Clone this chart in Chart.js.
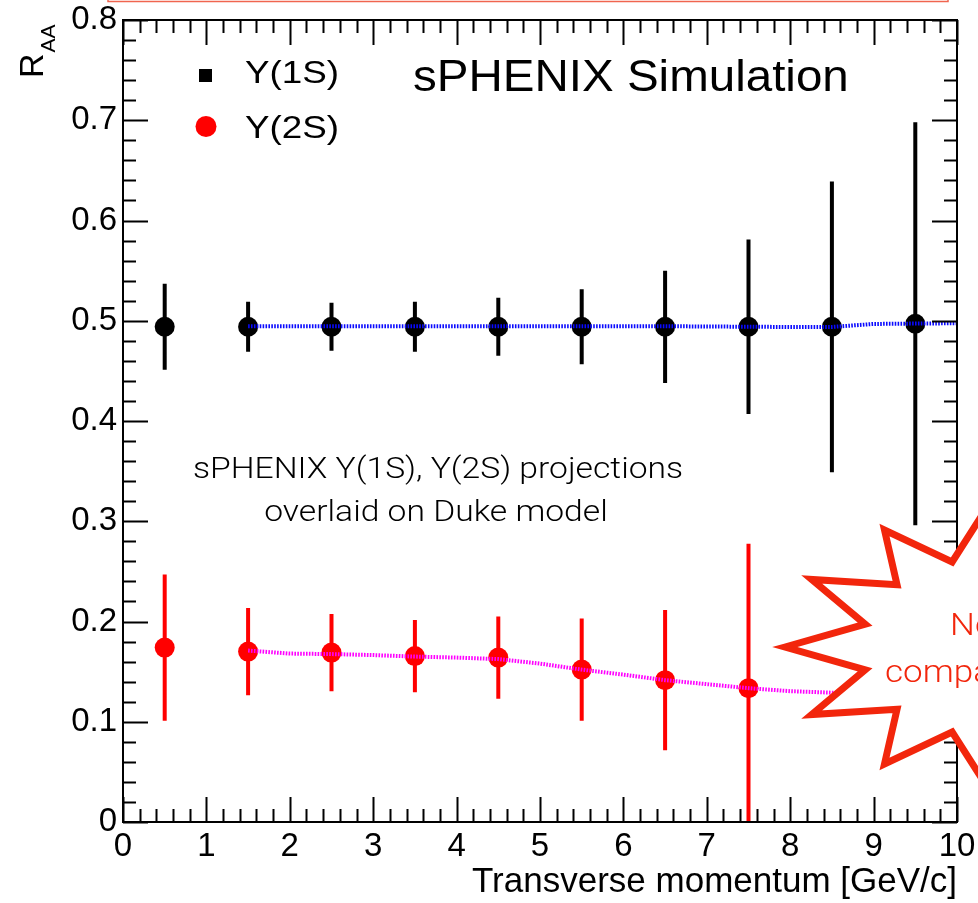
<!DOCTYPE html>
<html>
<head>
<meta charset="utf-8">
<script src="https://cdn.jsdelivr.net/npm/chart.js@4.4.1/dist/chart.umd.min.js"></script>
<style>
  html, body { margin: 0; padding: 0; background: #fff; }
  #wrap { width: 978px; height: 903px; position: relative; }
</style>
</head>
<body>
<div id="wrap"><canvas id="raaChart"></canvas></div>
<script>
const ptBins = [0.5, 1.5, 2.5, 3.5, 4.5, 5.5, 6.5, 7.5, 8.5, 9.5];
const ups1S = [0.494, 0.494, 0.494, 0.494, 0.494, 0.494, 0.494, 0.494, 0.494, 0.497];
const ups1SErr = [0.043, 0.025, 0.024, 0.025, 0.029, 0.0375, 0.056, 0.087, 0.145, 0.201];
const ups2S = [0.174, 0.170, 0.169, 0.1655, 0.164, 0.152, 0.1415, 0.1335];
const ups2SErr = [0.073, 0.0435, 0.0385, 0.036, 0.041, 0.051, 0.070, 0.144];

// Duke model curves
const modelPt = [1.5, 2, 2.5, 3, 3.5, 4, 4.5, 5, 5.5, 6, 6.5, 7, 7.5, 8, 8.5, 9, 9.5, 10];
const duke1S = [0.4945, 0.4945, 0.4945, 0.4945, 0.4945, 0.4945, 0.4945, 0.4945, 0.4945,
                0.4945, 0.4945, 0.4943, 0.494, 0.4938, 0.4938, 0.4968, 0.4972, 0.4975];
const duke2S = [0.171, 0.168, 0.1675, 0.1665, 0.165, 0.164, 0.1625, 0.158, 0.152,
                0.147, 0.1415, 0.1375, 0.1335, 0.1305, 0.129, 0.128, 0.127, 0.127];

// axis ticks
const xTickValues = [0, 1, 2, 3, 4, 5, 6, 7, 8, 9, 10];
const xTickLabels = ['0', '1', '2', '3', '4', '5', '6', '7', '8', '9', '10'];
const yTickValues = [0, 0.1, 0.2, 0.3, 0.4, 0.5, 0.6, 0.7, 0.8];
const yTickLabels = ['0', '0.1', '0.2', '0.3', '0.4', '0.5', '0.6', '0.7', '0.8'];

const toXY = (xs, ys) => ys.map((v, i) => ({ x: xs[i], y: v }));
const HELV = "'Liberation Sans', Arial, Helvetica, sans-serif";
const LIGHT = "Roboto, 'Liberation Sans', sans-serif";
const STAR_RED = '#f2260c';

function drawText(ctx, txt, x, y, font, color, align, sx) {
  ctx.save();
  ctx.font = font;
  ctx.fillStyle = color;
  ctx.textBaseline = 'alphabetic';
  const w = ctx.measureText(txt).width * sx;
  let x0 = x;
  if (align === 'center') x0 = x - w / 2;
  if (align === 'right') x0 = x - w;
  ctx.translate(x0, y);
  ctx.scale(sx, 1);
  ctx.textAlign = 'left';
  ctx.fillText(txt, 0, 0);
  ctx.restore();
}

function drawErrors(ctx, xs, ys, xv, yv, ev, color) {
  ctx.strokeStyle = color;
  ctx.beginPath();
  yv.forEach((v, i) => {
    const px = xs.getPixelForValue(xv[i]);
    ctx.moveTo(px, ys.getPixelForValue(v - ev[i]));
    ctx.lineTo(px, ys.getPixelForValue(v + ev[i]));
  });
  ctx.stroke();
}

const rootStyle = {
  id: 'rootStyle',
  beforeDatasetsDraw(chart) {
    const { ctx, chartArea: a, scales: { x, y } } = chart;
    ctx.save();
    ctx.beginPath();
    ctx.rect(a.left, a.top, a.right - a.left, a.bottom - a.top);
    ctx.clip();
    ctx.lineWidth = 4;
    drawErrors(ctx, x, y, ptBins, ups1S, ups1SErr, '#000');
    drawErrors(ctx, x, y, ptBins, ups2S, ups2SErr, '#ff0000');
    ctx.restore();
  },
  afterDatasetsDraw(chart) {
    const { ctx, chartArea: a, scales: { x, y } } = chart;
    ctx.save();
    ctx.strokeStyle = '#000';
    ctx.lineWidth = 2;
    ctx.strokeRect(a.left, a.top, a.right - a.left, a.bottom - a.top);
    ctx.beginPath();
    // x ticks, bottom and top, inside the frame
    for (let i = 0; i <= 50; i++) {
      const px = Math.round(x.getPixelForValue(i * 0.2)) + 0.5;
      const len = i % 5 === 0 ? 25 : 13;
      ctx.moveTo(px, a.bottom); ctx.lineTo(px, a.bottom - len);
      ctx.moveTo(px, a.top); ctx.lineTo(px, a.top + len);
    }
    // y ticks, left and right
    for (let i = 0; i <= 40; i++) {
      const py = Math.round(y.getPixelForValue(i * 0.02)) + 0.5;
      const len = i % 5 === 0 ? 25 : 13;
      ctx.moveTo(a.left, py); ctx.lineTo(a.left + len, py);
      ctx.moveTo(a.right, py); ctx.lineTo(a.right - len, py);
    }
    ctx.stroke();
    ctx.restore();
  },
  afterDraw(chart) {
    const { ctx } = chart;
    ctx.save();

    // y axis title R_AA
    ctx.save();
    ctx.translate(43, 78);
    ctx.rotate(-Math.PI / 2);
    ctx.fillStyle = '#000';
    ctx.font = '34px ' + HELV;
    ctx.textBaseline = 'alphabetic';
    ctx.fillText('R', 0, 0);
    const rw = ctx.measureText('R').width;
    ctx.font = '21px ' + HELV;
    ctx.fillText('AA', rw + 1, 12);
    ctx.restore();

    // legend
    ctx.fillStyle = '#000';
    ctx.fillRect(199, 69, 13, 13);
    ctx.fillStyle = '#ff0000';
    ctx.beginPath(); ctx.arc(206, 126.5, 10.5, 0, Math.PI * 2); ctx.fill();
    drawText(ctx, 'Υ(1S)', 245, 83, '32px ' + HELV, '#000', 'left', 1.15);
    drawText(ctx, 'Υ(2S)', 245, 138, '32px ' + HELV, '#000', 'left', 1.15);
    drawText(ctx, 'sPHENIX Simulation', 413, 91, '44px ' + HELV, '#000', 'left', 1.08);

    // overlaid note
    drawText(ctx, 'sPHENIX Υ(1S), Υ(2S) projections', 438, 478, '300 29px ' + LIGHT, '#000', 'center', 1.16);
    drawText(ctx, 'overlaid on Duke model', 436, 521, '300 29px ' + LIGHT, '#000', 'center', 1.16);

    // red starburst
    const cx = 984, cy = 647, n = 12;
    ctx.beginPath();
    for (let k = 0; k < 2 * n; k++) {
      const ang = Math.PI + k * Math.PI / n;
      const outer = k % 2 === 0;
      const rx = outer ? 199 : 123, ry = outer ? 135 : 88;
      const px = cx + rx * Math.cos(ang), py = cy + ry * Math.sin(ang);
      if (k === 0) ctx.moveTo(px, py); else ctx.lineTo(px, py);
    }
    ctx.closePath();
    ctx.fillStyle = '#fff';
    ctx.fill();
    ctx.lineWidth = 7;
    ctx.lineJoin = 'miter';
    ctx.strokeStyle = STAR_RED;
    ctx.stroke();
    drawText(ctx, 'New', 950, 635, '300 31px ' + LIGHT, STAR_RED, 'left', 1.13);
    drawText(ctx, 'comparison', 885, 682, '300 31px ' + LIGHT, STAR_RED, 'left', 1.13);

    // clipped box at the top
    ctx.strokeStyle = '#f0654f';
    ctx.lineWidth = 1.5;
    ctx.strokeRect(108, -10, 840, 11.5);

    ctx.restore();
  }
};

const tickFont = { family: 'Liberation Sans', size: 33, lineHeight: 1 };

new Chart(document.getElementById('raaChart'), {
  type: 'scatter',
  data: {
    datasets: [
      {
        label: 'Duke Υ(1S)',
        data: toXY(modelPt, duke1S),
        showLine: true,
        pointRadius: 0,
        borderColor: 'rgb(10, 10, 255)',
        borderWidth: 4,
        borderDash: [1.6, 1.3],
        order: 1,
      },
      {
        label: 'Duke Υ(2S)',
        data: toXY(modelPt, duke2S),
        showLine: true,
        pointRadius: 0,
        borderColor: 'rgb(255, 0, 255)',
        borderWidth: 4,
        borderDash: [1.6, 1.3],
        order: 2,
      },
      {
        label: 'Υ(1S)',
        data: toXY(ptBins, ups1S),
        pointRadius: 10,
        pointBackgroundColor: '#000',
        pointBorderColor: '#000',
        pointBorderWidth: 0,
        order: 3,
      },
      {
        label: 'Υ(2S)',
        data: toXY(ptBins, ups2S),
        pointRadius: 10,
        pointBackgroundColor: '#ff0000',
        pointBorderColor: '#ff0000',
        pointBorderWidth: 0,
        order: 4,
      },
    ],
  },
  options: {
    responsive: true,
    maintainAspectRatio: false,
    animation: false,
    devicePixelRatio: 1,
    layout: { padding: { top: 20, right: 21, left: 0, bottom: 0 } },
    plugins: {
      legend: { display: false },
      tooltip: { enabled: false },
    },
    scales: {
      x: {
        type: 'linear',
        min: 0,
        max: 10,
        afterBuildTicks: (s) => { s.ticks = xTickValues.map((v) => ({ value: v })); },
        afterFit: (s) => {
          s.height = 81;
          s.paddingLeft = 0;
          s.paddingRight = 0;
        },
        grid: { display: false, drawTicks: false },
        border: { display: false },
        ticks: {
          autoSkip: false,
          maxRotation: 0,
          padding: 8,
          color: '#000',
          font: tickFont,
          callback: (v, i) => xTickLabels[i],
        },
        title: {
          display: true,
          text: 'Transverse momentum [GeV/c]',
          align: 'end',
          color: '#000',
          padding: 0,
          font: { family: 'Liberation Sans', size: 35 },
        },
      },
      y: {
        type: 'linear',
        min: 0,
        max: 0.8,
        afterBuildTicks: (s) => { s.ticks = yTickValues.map((v) => ({ value: v })); },
        afterFit: (s) => {
          s.width = 123;
          s.paddingTop = 0;
          s.paddingBottom = 0;
        },
        grid: { display: false, drawTicks: false },
        border: { display: false },
        ticks: {
          padding: 6,
          color: '#000',
          font: tickFont,
          callback: (v, i) => yTickLabels[i],
        },
      },
    },
  },
  plugins: [rootStyle],
});
</script>
</body>
</html>
